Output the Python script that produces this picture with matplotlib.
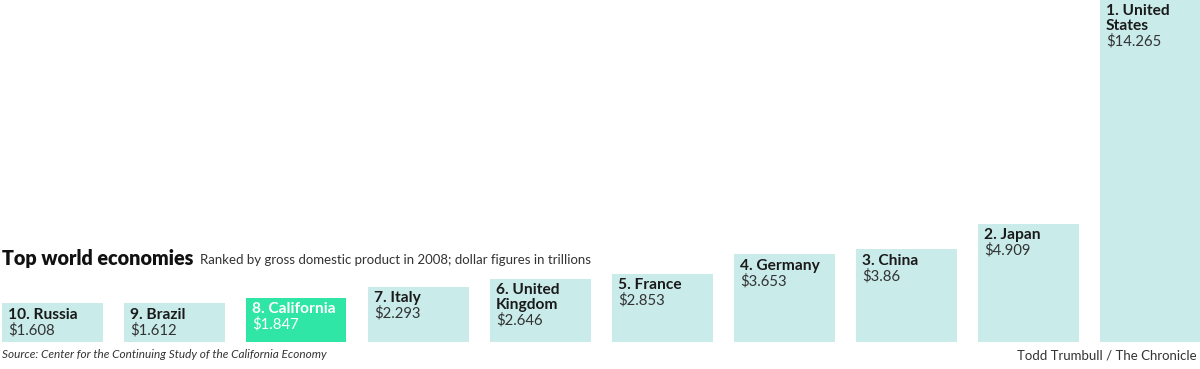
import matplotlib.pyplot as plt

plt.rcParams['font.family'] = ['Lato', 'DejaVu Sans']

# GDP 2008, trillions of dollars
labels = ["10. Russia", "9. Brazil", "8. California", "7. Italy", "6. United\nKingdom",
          "5. France", "4. Germany", "3. China", "2. Japan", "1. United\nStates"]
values = [1.608, 1.612, 1.847, 2.293, 2.646, 2.853, 3.653, 3.86, 4.909, 14.265]
value_text = ["$1.608", "$1.612", "$1.847", "$2.293", "$2.646", "$2.853", "$3.653",
              "$3.86", "$4.909", "$14.265"]
highlight = "8. California"

bar_col = "#c9ebea"
hi_col = "#2fe6a6"

fig = plt.figure(figsize=(12, 3.69), dpi=100)
ax = fig.add_axes([0, 27 / 369, 1, 342 / 369])
ax.set_xlim(-52 / 122, (1200 - 52) / 122)
ax.set_ylim(0, 14.265)
ax.axis("off")

w = 101 / 122
for i, (lab, v, vt) in enumerate(zip(labels, values, value_text)):
    is_hi = lab == highlight
    col = hi_col if is_hi else bar_col
    ax.bar(i, v, width=w, color=col, linewidth=0)
    tcol = "white" if is_hi else "#1a1a1a"
    left = i - w / 2
    nlines = lab.count("\n") + 1
    ax.annotate(lab, xy=(left, v), xytext=(4.5, -3), textcoords="offset points",
                ha="left", va="top", fontsize=11.2, fontweight="bold", color=tcol,
                linespacing=1.12)
    ax.annotate(vt, xy=(left, v), xytext=(4.5, -3.5 - 10.3 - 11 * (nlines - 1)),
                textcoords="offset points", ha="left", va="top", fontsize=10.7,
                color="#333333" if not is_hi else "white")

fig.text(2 / 1200, 1 - 258 / 369, "Top world economies", fontsize=14.2, fontweight="heavy",
         ha="left", va="center", color="#111111")
fig.text(200 / 1200, 1 - 260 / 369,
         "Ranked by gross domestic product in 2008; dollar figures in trillions",
         fontsize=9.5, ha="left", va="center", color="#333333")
fig.text(2 / 1200, 1 - 355 / 369,
         "Source: Center for the Continuing Study of the California Economy",
         fontsize=8.5, style="italic", ha="left", va="center", color="#333333")
fig.text(1197 / 1200, 1 - 356 / 369, "Todd Trumbull / The Chronicle",
         fontsize=9.5, ha="right", va="center", color="#333333")

fig.savefig("out.png", dpi=100)
